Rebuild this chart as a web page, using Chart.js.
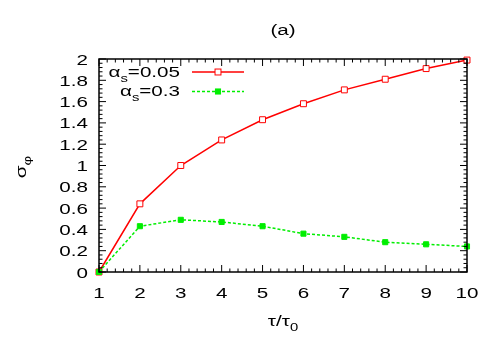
<!DOCTYPE html>
<html>
<head>
<meta charset="utf-8">
<script src="https://cdn.jsdelivr.net/npm/chart.js@4"></script>
<style>
html,body{margin:0;padding:0;background:#fff;}
#wrap{width:500px;height:350px;}
</style>
</head>
<body>
<div id="wrap"><canvas id="c" width="500" height="350"></canvas></div>
<script>
// ---- data ----
const xValues = [1, 2, 3, 4, 5, 6, 7, 8, 9, 10];
const seriesRed = [0, 0.64, 1.0, 1.24, 1.43, 1.58, 1.71, 1.81, 1.91, 1.99];
const seriesGreen = [0, 0.43, 0.49, 0.47, 0.43, 0.36, 0.33, 0.28, 0.26, 0.24];
const seriesLabels = ['α_s=0.05', 'α_s=0.3'];
const xTickLabels = ['1','2','3','4','5','6','7','8','9','10'];
const yTickLabels = ['0','0.2','0.4','0.6','0.8','1','1.2','1.4','1.6','1.8','2'];
const chartTitle = '(a)';
const xTitle = 'τ/τ_0';
const yTitle = 'σ_φ';

const FONT = '"Liberation Sans", Arial, Helvetica, sans-serif';
const FS = 15.5;   // font size
const SX = 1.33;   // horizontal stretch of the reference's text

function parts(str) {
  const i = str.indexOf('_');
  if (i < 0) return [{t: str}];
  const res = [{t: str.slice(0, i)}, {t: str[i + 1], sub: true}];
  if (str.length > i + 2) res.push({t: str.slice(i + 2)});
  return res;
}
function drawRich(ctx, str, x, y, size, align) {
  const ps = parts(str);
  let w = 0;
  ps.forEach(p => { ctx.font = (p.sub ? size * 0.72 : size) + 'px ' + FONT; w += ctx.measureText(p.t).width; });
  ctx.save();
  ctx.translate(x, y);
  ctx.scale(SX, 1);
  let cx = align === 'right' ? -w : align === 'center' ? -w / 2 : 0;
  ctx.textAlign = 'left';
  ctx.textBaseline = 'alphabetic';
  ps.forEach(p => {
    const s = p.sub ? size * 0.72 : size;
    ctx.font = s + 'px ' + FONT;
    ctx.fillText(p.t, cx, p.sub ? size * 0.33 : 0);
    cx += ctx.measureText(p.t).width;
  });
  ctx.restore();
}

const decor = {
  id: 'decor',
  afterDatasetsDraw(chart) {
    const ctx = chart.ctx;
    const a = chart.chartArea;
    const xs = chart.scales.x, ys = chart.scales.y;
    ctx.save();
    ctx.strokeStyle = '#000';
    ctx.lineWidth = 1;
    // inward ticks, mirrored
    function xTick(v, len) {
      const px = xs.getPixelForValue(v);
      ctx.beginPath();
      ctx.moveTo(px, a.bottom); ctx.lineTo(px, a.bottom - len);
      ctx.moveTo(px, a.top); ctx.lineTo(px, a.top + len);
      ctx.stroke();
    }
    function yTick(v, len) {
      const py = ys.getPixelForValue(v);
      ctx.beginPath();
      ctx.moveTo(a.left, py); ctx.lineTo(a.left + len, py);
      ctx.moveTo(a.right, py); ctx.lineTo(a.right - len, py);
      ctx.stroke();
    }
    const xt = xs.ticks.map(t => t.value);
    xt.forEach((v, i) => {
      xTick(v, 7);
      if (i < xt.length - 1) {
        const step = (xt[i + 1] - v) / 5;
        for (let k = 1; k < 5; k++) xTick(v + k * step, 3.5);
      }
    });
    const yt = ys.ticks.map(t => t.value);
    yt.forEach((v, i) => {
      yTick(v, 7);
      if (i < yt.length - 1) {
        const step = (yt[i + 1] - v) / 5;
        for (let k = 1; k < 5; k++) yTick(v + k * step, 3.5);
      }
    });
    // border
    ctx.lineWidth = 1.5;
    ctx.strokeRect(a.left, a.top, a.right - a.left, a.bottom - a.top);

    // tick labels, placed from the library's scales
    ctx.fillStyle = '#000';
    xs.ticks.forEach((t, i) => {
      drawRich(ctx, xTickLabels[i], xs.getPixelForValue(t.value), 297.5, FS, 'center');
    });
    ys.ticks.forEach((t, i) => {
      drawRich(ctx, yTickLabels[i], a.left - 11, ys.getPixelForValue(t.value) + 5.5, FS, 'right');
    });

    // titles
    drawRich(ctx, chartTitle, (a.left + a.right) / 2, 34.5, FS, 'center');
    drawRich(ctx, xTitle, (a.left + a.right) / 2, 325.5, FS, 'center');
    ctx.save();
    ctx.translate(26, 167);
    ctx.rotate(-Math.PI / 2);
    drawRich(ctx, yTitle, 0, 0, FS, 'center');
    ctx.restore();

    // legend
    chart.data.datasets.forEach((ds, i) => {
      const yy = a.top + 13 + i * 19.5;
      ctx.fillStyle = '#000';
      drawRich(ctx, ds.label, 180, yy + 4.5, FS, 'right');
      ctx.save();
      ctx.strokeStyle = ds.borderColor;
      ctx.lineWidth = ds.borderWidth;
      ctx.setLineDash(ds.borderDash || []);
      ctx.beginPath();
      ctx.moveTo(192, yy); ctx.lineTo(244, yy);
      ctx.stroke();
      ctx.setLineDash([]);
      const r = ds.pointRadius * Math.SQRT1_2;
      ctx.fillStyle = ds.pointBackgroundColor;
      ctx.fillRect(218 - r, yy - r, 2 * r, 2 * r);
      ctx.strokeStyle = ds.pointBorderColor;
      ctx.lineWidth = ds.pointBorderWidth;
      ctx.strokeRect(218 - r, yy - r, 2 * r, 2 * r);
      ctx.restore();
    });
    ctx.restore();
  }
};

new Chart(document.getElementById('c'), {
  type: 'line',
  data: {
    labels: xValues,
    datasets: [
      {
        label: seriesLabels[0],
        data: xValues.map((x, i) => ({x: x, y: seriesRed[i]})),
        borderColor: '#ff0000',
        borderWidth: 1.5,
        pointStyle: 'rect',
        pointRadius: 4.2,
        pointBorderWidth: 1,
        pointBorderColor: '#ff0000',
        pointBackgroundColor: '#ffffff',
        tension: 0,
        order: 1,
        clip: false
      },
      {
        label: seriesLabels[1],
        data: xValues.map((x, i) => ({x: x, y: seriesGreen[i]})),
        borderColor: '#00ee00',
        borderWidth: 1.5,
        borderDash: [3, 2],
        pointStyle: 'rect',
        pointRadius: 3.6,
        pointBorderWidth: 1,
        pointBorderColor: '#00ee00',
        pointBackgroundColor: '#00ee00',
        tension: 0,
        order: 0,
        clip: false
      }
    ]
  },
  options: {
    responsive: false,
    animation: false,
    events: [],
    layout: { padding: { top: 59, right: 33, left: 0, bottom: 0 } },
    plugins: { legend: { display: false }, tooltip: { enabled: false }, title: { display: false } },
    scales: {
      x: {
        type: 'linear',
        min: 1, max: 10,
        afterBuildTicks: s => { s.ticks = xTickLabels.map(v => ({value: Number(v)})); },
        afterFit: s => { s.height = 78; },
        grid: { display: false, drawTicks: false },
        border: { display: false },
        ticks: { display: false, autoSkip: false }
      },
      y: {
        min: 0, max: 2,
        afterBuildTicks: s => { s.ticks = yTickLabels.map(v => ({value: Number(v)})); },
        afterFit: s => { s.width = 99; },
        grid: { display: false, drawTicks: false },
        border: { display: false },
        ticks: { display: false, autoSkip: false }
      }
    }
  },
  plugins: [decor]
});
</script>
</body>
</html>
